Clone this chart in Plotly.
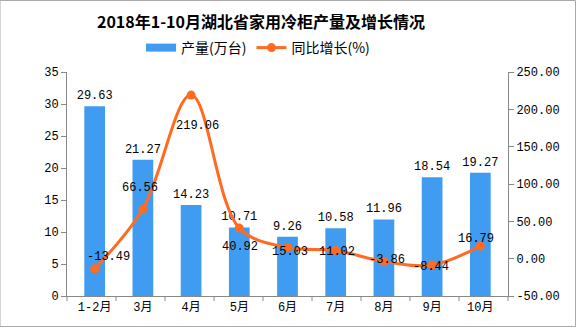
import plotly.graph_objects as go

categories = ["1-2月", "3月", "4月", "5月", "6月", "7月", "8月", "9月", "10月"]
output_vals = [29.63, 21.27, 14.23, 10.71, 9.26, 10.58, 11.96, 18.54, 19.27]
growth_vals = [-13.49, 66.56, 219.06, 40.92, 15.03, 11.02, -3.86, -8.44, 16.79]
left_ticks = [0, 5, 10, 15, 20, 25, 30, 35]
right_ticks = [-50, 0, 50, 100, 150, 200, 250]

# label offsets (px) for line labels
label_dx = [14, -3, 6, 1, 2, 1, 3, -1, -4]
label_dy = [12, 21, -31, -19, -5, -2, 2, -2, 7]

bar_color = "#3F9CF0"
line_color = "#FF6B21"
mono = "Liberation Mono, DejaVu Sans Mono, Noto Sans CJK SC"
cjk = "Noto Sans CJK SC"

fig = go.Figure()
fig.add_trace(go.Bar(
    x=categories, y=output_vals, name="产量(万台)", showlegend=False,
    marker=dict(color=bar_color, line=dict(width=0)),
    width=0.43,
    text=[f"{v:.2f}" for v in output_vals], textposition="outside",
    constraintext="none",
    textfont=dict(family=mono, size=12, color="#000"),
    cliponaxis=False,
))
# legend-only entry giving a wide rectangular swatch for the bars
fig.add_trace(go.Scatter(
    x=[None], y=[None], name="产量(万台)", mode="lines",
    line=dict(color=bar_color, width=8),
))
fig.add_trace(go.Scatter(
    x=categories, y=growth_vals, name="同比增长(%)", yaxis="y2",
    mode="lines+markers",
    line=dict(color=line_color, width=3, shape="spline", smoothing=1.0),
    marker=dict(color=line_color, size=9),
))

for c, v, dx, dy in zip(categories, growth_vals, label_dx, label_dy):
    fig.add_annotation(x=c, y=v, yref="y2", text=f"{v:.2f}", showarrow=False,
                       xshift=dx, yshift=dy,
                       font=dict(family=mono, size=12, color="#000"))

fig.update_layout(
    width=576, height=327,
    margin=dict(l=67, r=68, t=72, b=31),
    paper_bgcolor="white", plot_bgcolor="white",
    title=dict(text="<b>2018年1-10月湖北省家用冷柜产量及增长情况</b>",
               x=261 / 576, xanchor="center", y=1 - 22 / 327, yanchor="middle",
               font=dict(family=cjk, size=16, color="#000")),
    legend=dict(orientation="h", x=(258 - 67) / 441, xanchor="center", y=1 + 24 / 224, yanchor="middle",
                font=dict(family=cjk, size=14, color="#000"), bgcolor="rgba(0,0,0,0)",
                itemwidth=30, traceorder="normal"),
    bargap=0.5,
    xaxis=dict(showline=True, linecolor="#888", linewidth=1, ticks="", showgrid=False,
               tickfont=dict(family=mono, size=12, color="#000"), fixedrange=True),
    yaxis=dict(range=[0, 35], tickvals=left_ticks, showline=True, linecolor="#888",
               ticks="outside", ticklen=5, tickcolor="#888", showgrid=False, zeroline=False,
               tickfont=dict(family=mono, size=12, color="#000")),
    yaxis2=dict(range=[-50, 250], tickvals=right_ticks, ticktext=[f"{t:.2f}" for t in right_ticks],
                overlaying="y", side="right", showline=True, linecolor="#888",
                ticks="outside", ticklen=5, tickcolor="#888", showgrid=False, zeroline=False,
                tickfont=dict(family=mono, size=12, color="#000")),
    showlegend=True,
)

# category boundary ticks on x axis
n = len(categories)
for i in range(n + 1):
    fig.add_shape(type="line", xref="x domain", yref="paper",
                  x0=i / n, x1=i / n, y0=0, y1=-5 / 224,
                  line=dict(color="#888", width=1))

# outer border
fig.add_shape(type="rect", xref="paper", yref="paper",
              x0=-67 / 441, x1=1 + 67.5 / 441, y0=-30.5 / 224, y1=1 + 71.5 / 224,
              line=dict(color="#AAA", width=1))

fig.write_html("out.html")
